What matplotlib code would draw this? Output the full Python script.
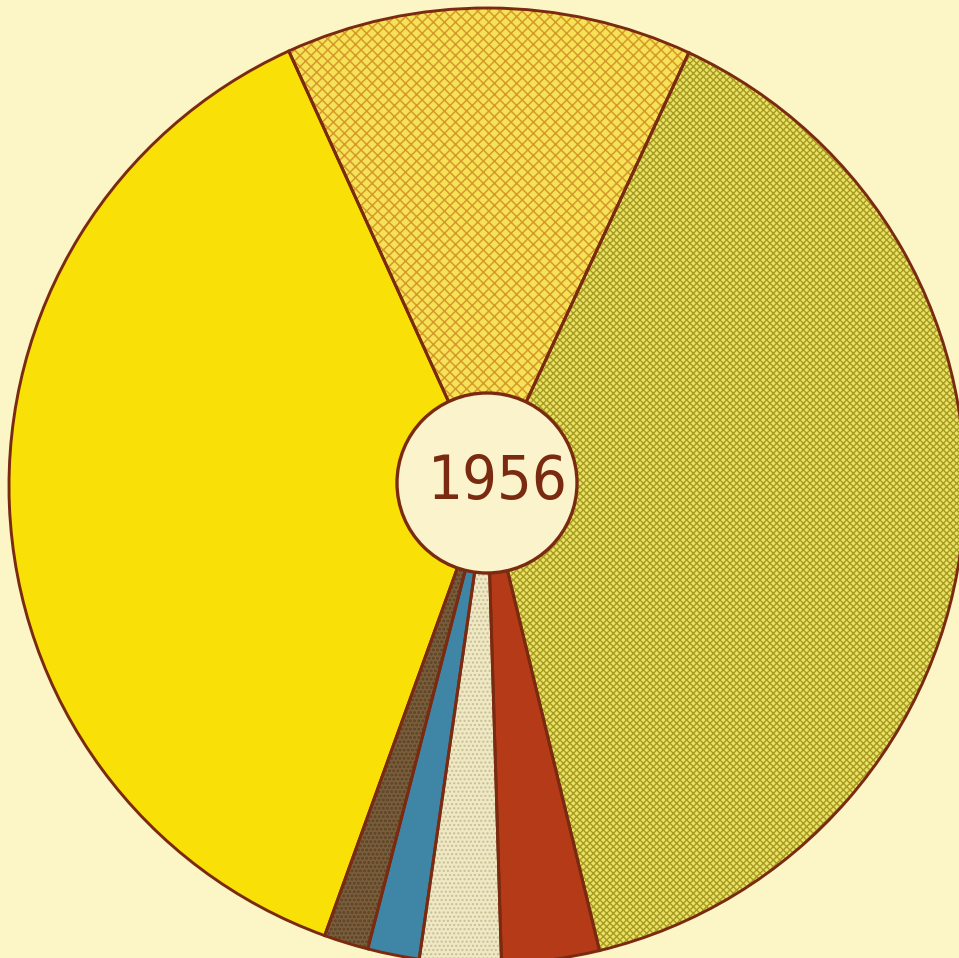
import matplotlib.pyplot as plt
from matplotlib.patches import Circle
from matplotlib import font_manager

# shares of the 1956 circle, counter-clockwise from the upper left boundary
labels = ["yellow", "brown", "blue", "cream", "red", "green", "top"]
shares = [37.7, 1.5, 1.75, 2.75, 3.3, 39.3, 13.75]
face_colors = ["#F9E006", "#7A5E3C", "#3F86A6", "#EFE8C4", "#B43A18", "#E8E26A", "#F6E256"]
hatches = [None, "....", None, "....", None, "xxxxx", "xxx"]
hatch_colors = [None, "#5A4226", None, "#C9BE92", None, "#A89A1E", "#D69A2A"]
hatch_widths = [0, 1.4, 0, 1.0, 0, 1.0, 1.1]
year = "1956"

bg = "#FCF5C6"
edge = "#7A2A10"

names = sorted({f.name for f in font_manager.fontManager.ttflist})
print(names)
cond = [f.fname for f in font_manager.fontManager.ttflist if "ondensed" in f.fname or "Narrow" in f.fname]
print(cond)

fig = plt.figure(figsize=(9.59, 9.58), dpi=100, facecolor=bg)
ax = fig.add_axes([0, 0, 1, 1])
ax.set_facecolor(bg)

center = (487, 472)
radius = 478

# solid fills
wedges, _ = ax.pie(shares, colors=face_colors, startangle=114.5, counterclock=True,
                   center=center, radius=radius, frame=True,
                   wedgeprops=dict(linewidth=0, edgecolor="none"))

# print screens drawn on top of the fills
for w, h, hc, hlw in zip(wedges, hatches, hatch_colors, hatch_widths):
    if h is None:
        continue
    plt.rcParams["hatch.linewidth"] = hlw
    hw, _ = ax.pie([1], startangle=w.theta1, counterclock=True, center=center,
                   radius=radius, frame=True,
                   wedgeprops=dict(linewidth=0, facecolor="none", edgecolor=hc, hatch=h))
    hw[0].set_theta2(w.theta2)

# outlines
outline, _ = ax.pie(shares, colors=["none"] * len(shares), startangle=114.5,
                    counterclock=True, center=center, radius=radius, frame=True,
                    wedgeprops=dict(linewidth=2.1, edgecolor=edge, fill=False))

ax.add_patch(Circle((487, 475), 90, facecolor="#FBF3CB", edgecolor=edge, linewidth=2.4, zorder=5))
ax.text(498, 476, year, ha="center", va="center", fontsize=44, color=edge,
        family="DejaVu Sans", fontstretch="condensed", fontweight="light", zorder=6)

ax.set_xlim(0, 959)
ax.set_ylim(0, 958)
ax.set_aspect("equal")
ax.axis("off")

fig.savefig("out.png", dpi=100, facecolor=bg)
